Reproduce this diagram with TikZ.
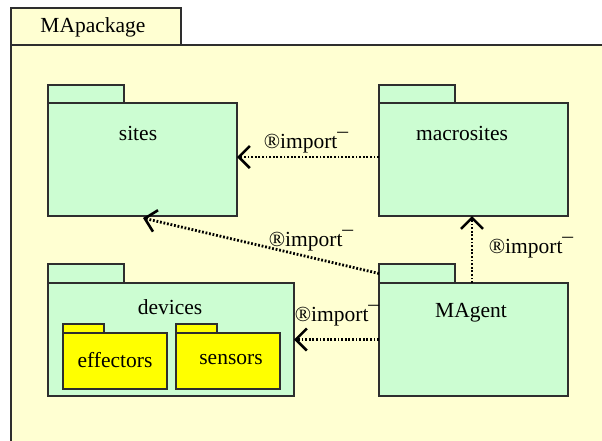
\documentclass[tikz,border=0pt]{standalone}
\usepackage{fontspec}
\setmainfont{Liberation Serif}
\usetikzlibrary{arrows.meta}
\definecolor{pkgyellow}{HTML}{FFFFD2}
\definecolor{pkggreen}{HTML}{CCFDD2}
\definecolor{subyellow}{HTML}{FFFF00}
\definecolor{edge}{HTML}{2E2E2E}
\tikzset{
  box/.style={draw=edge, line width=1.3pt, rectangle, inner sep=0pt, outer sep=0pt},
  outerpkg/.style={box, fill=pkgyellow},
  greenpkg/.style={box, fill=pkggreen},
  yellowpkg/.style={box, fill=subyellow},
  lbl/.style={font=\fontsize{21.5}{25}\selectfont, inner sep=0pt},
  imp/.style={draw=black, line width=2.8pt, dash pattern=on 1.8pt off 1.8pt,
    -{Straight Barb[length=11pt,width=22pt,line width=2.6pt]}},
}
\begin{document}
\begin{tikzpicture}[x=1pt,y=-1pt]
\useasboundingbox (0,0) rectangle (602,440);
\begin{scope}
\clip (0,0) rectangle (602,440);
% enclosing package
\node[outerpkg, anchor=north west, minimum width=620pt, minimum height=420pt] (mapkg) at (11,45) {};
\node[outerpkg, anchor=south west, minimum width=170pt, minimum height=37pt] (mapkgtab) at (mapkg.north west) {};
\node[lbl] (mapkglbl) at (93,27) {MApackage};
\end{scope}

% sites
\node[greenpkg, anchor=north west, minimum width=189pt, minimum height=113pt] (sites) at (48,103) {};
\node[greenpkg, anchor=south west, minimum width=76pt, minimum height=18pt] (sitestab) at (sites.north west) {};
\node[lbl] (siteslbl) at (138,133) {sites};

% macrosites
\node[greenpkg, anchor=north west, minimum width=189pt, minimum height=113pt] (macro) at (379,103) {};
\node[greenpkg, anchor=south west, minimum width=76pt, minimum height=18pt] (macrotab) at (macro.north west) {};
\node[lbl] (macrolbl) at (462,133) {macrosites};

% devices
\node[greenpkg, anchor=north west, minimum width=246pt, minimum height=113pt] (devices) at (48,283) {};
\node[greenpkg, anchor=south west, minimum width=76pt, minimum height=19pt] (devicestab) at (devices.north west) {};
\node[lbl] (deviceslbl) at (170,307) {devices};

% effectors and sensors
\node[yellowpkg, anchor=north west, minimum width=104pt, minimum height=56pt] (effectors) at (63,333) {};
\node[yellowpkg, anchor=south west, minimum width=41pt, minimum height=9pt] (effectorstab) at (effectors.north west) {};
\node[lbl] (effectorslbl) at (115,360) {effectors};
\node[yellowpkg, anchor=north west, minimum width=104pt, minimum height=56pt] (sensors) at (176,333) {};
\node[yellowpkg, anchor=south west, minimum width=41pt, minimum height=9pt] (sensorstab) at (sensors.north west) {};
\node[lbl] (sensorslbl) at (231,360) {sensors};

% MAgent
\node[greenpkg, anchor=north west, minimum width=189pt, minimum height=113pt] (magent) at (379,283) {};
\node[greenpkg, anchor=south west, minimum width=76pt, minimum height=19pt] (magenttab) at (magent.north west) {};
\node[lbl] (magentlbl) at (471,313) {MAgent};

% import dependencies
\draw[imp] (macro.west |- 0,157) -- (sites.east |- 0,157);
\node[lbl] (imp1) at (306,143) {®import¯};

\coordinate (sitesin) at ([xshift=0.5pt,yshift=-2pt]sites.south);
\draw[imp] (magenttab.west) -- (sitesin);
\node[lbl] (imp2) at (311,241) {®import¯};

\draw[imp] (magent.north -| 472,0) -- (macro.south -| 472,0);
\node[lbl] (imp3) at (531,248) {®import¯};

\draw[imp] (magent.west) -- (devices.east);
\node[lbl] (imp4) at (337,316) {®import¯};
\end{tikzpicture}
\end{document}
